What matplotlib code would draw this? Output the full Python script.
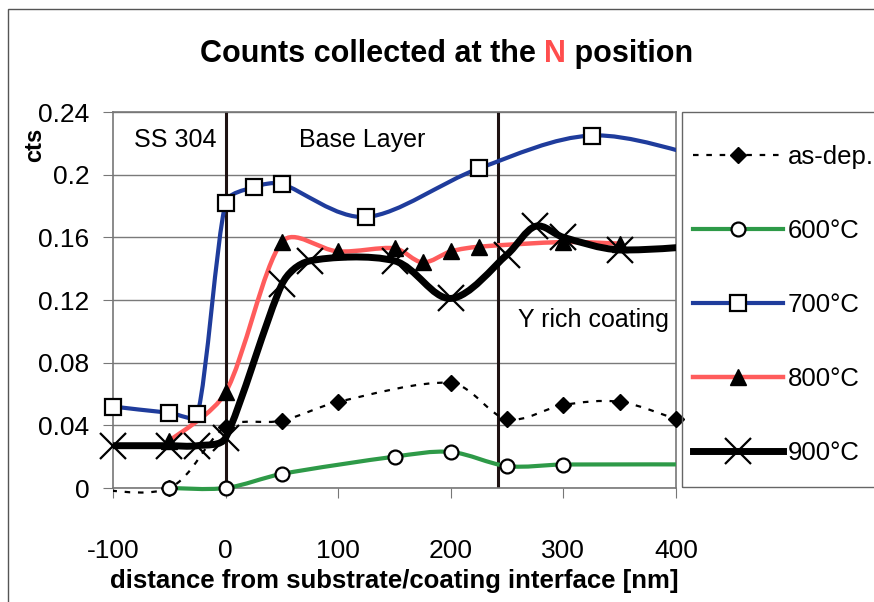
import numpy as np
import matplotlib
matplotlib.use("Agg")
import matplotlib.pyplot as plt
from matplotlib.path import Path
from matplotlib.patches import PathPatch, Rectangle
from matplotlib.lines import Line2D

plt.rcParams['axes.unicode_minus'] = False
FONT = ['Liberation Sans', 'DejaVu Sans']

# series (x in nm, y in cts)
asdep_x = [-125, -50, 0, 50, 100, 200, 250, 300, 350, 400]
asdep_y = [0.0, 0.0, 0.039, 0.043, 0.055, 0.067, 0.044, 0.053, 0.055, 0.044]

c600_x = [-50, 0, 50, 150, 200, 250, 300, 450]
c600_y = [0.0, 0.0, 0.009, 0.020, 0.023, 0.014, 0.015, 0.015]

c700_x = [-100, -50, -25, 0, 25, 50, 125, 225, 325, 425]
c700_y = [0.052, 0.048, 0.047, 0.182, 0.192, 0.194, 0.173, 0.204, 0.225, 0.211]

c800_x = [-50, 0, 50, 100, 150, 175, 200, 225, 300, 350]
c800_y = [0.030, 0.061, 0.157, 0.151, 0.153, 0.144, 0.151, 0.154, 0.157, 0.156]

c900_x = [-100, -50, -25, 0, 50, 75, 150, 200, 250, 275, 300, 350, 450]
c900_y = [0.027, 0.027, 0.027, 0.032, 0.130, 0.145, 0.145, 0.121, 0.149, 0.167, 0.160, 0.152, 0.156]

labels = ['as-dep.', '600°C', '700°C', '800°C', '900°C']
layer_bounds = [0, 242]
xticks = [-100, 0, 100, 200, 300, 400]
yticks = [0, 0.04, 0.08, 0.12, 0.16, 0.2, 0.24]
ytick_labels = ['0', '0.04', '0.08', '0.12', '0.16', '0.2', '0.24']

fig = plt.figure(figsize=(8.74, 6.02), dpi=100)
W, H = 874, 602
ax = fig.add_axes([113 / W, 1 - 488 / H, (676 - 113) / W, (488 - 112) / H])
ax.set_xlim(-100, 400)
ax.set_ylim(0, 0.24)


def smooth_path(x, y):
    # Excel-like smoothed line: Catmull-Rom bezier, worked out in pixel space,
    # with the handles capped so short steps do not overshoot
    to_px = ax.transData
    pts = to_px.transform(np.column_stack([x, y]).astype(float))
    verts = [pts[0]]
    codes = [Path.MOVETO]
    n = len(pts)
    for i in range(n - 1):
        p0 = pts[i - 1] if i > 0 else pts[i]
        p1, p2 = pts[i], pts[i + 1]
        p3 = pts[i + 2] if i + 2 < n else pts[i + 1]
        seg = np.hypot(*(p2 - p1))
        d1 = (p2 - p0) / 6
        d2 = (p3 - p1) / 6
        cap = seg / 3
        for d in (d1, d2):
            L = np.hypot(*d)
            if L > cap and L > 0:
                d *= cap / L
        verts += [p1 + d1, p2 - d2, p2]
        codes += [Path.CURVE4] * 3
    verts = to_px.inverted().transform(np.array(verts))
    return Path(verts, codes)


# outer chart border
fig.patches.append(Rectangle((8 / W, -0.1), 1.2, 1.1 - 9 / H, transform=fig.transFigure,
                             fill=False, edgecolor='#555555', lw=1.0))
# legend box
fig.patches.append(Rectangle((682 / W, 1 - 487 / H), 0.3, (487 - 112) / H,
                             transform=fig.transFigure, fill=False,
                             edgecolor='#666666', lw=1.0))

ax.set_xticks(xticks)
ax.set_yticks(yticks)
ax.set_yticklabels(ytick_labels)
ax.grid(axis='y', color='#7a7a7a', lw=1.0)
ax.set_axisbelow(True)
for s in ax.spines.values():
    s.set_color('#777777')
    s.set_linewidth(1.2)
ax.tick_params(axis='x', length=7, color='#777777', pad=30, labelsize=19)
ax.tick_params(axis='y', length=7, color='#777777', pad=10, labelsize=19)
for t in ax.get_xticklabels() + ax.get_yticklabels():
    t.set_family(FONT)

for xb in layer_bounds:
    ax.axvline(xb, color='#1e1212', lw=2.2, zorder=1.5)

clip = Rectangle((0, -0.04), 1, 1.08, transform=ax.transAxes)

series = [
    (asdep_x, asdep_y, dict(color='black', lw=1.6, ls=(0, (2.5, 3.5))),
     dict(marker='D', ms=8, mfc='black', mec='black')),
    (c600_x, c600_y, dict(color='#2e9a48', lw=3.0, ls='-'),
     dict(marker='o', ms=10, mfc='white', mec='black', mew=1.6)),
    (c700_x, c700_y, dict(color='#1f3c9c', lw=3.0, ls='-'),
     dict(marker='s', ms=11, mfc='white', mec='black', mew=1.6)),
    (c800_x, c800_y, dict(color='#ff5c5c', lw=3.2, ls='-'),
     dict(marker='^', ms=11, mfc='black', mec='black')),
    (c900_x, c900_y, dict(color='black', lw=5.0, ls='-'),
     dict(marker='x', ms=19, mfc='black', mec='black', mew=1.6)),
]

handles = []
for (x, y, lst, mst), lab in zip(series, labels):
    patch = PathPatch(smooth_path(x, y), fill=False, edgecolor=lst['color'], lw=lst['lw'],
                      linestyle=lst['ls'], capstyle='butt', joinstyle='round', zorder=3)
    ax.add_patch(patch)
    patch.set_clip_path(clip)
    xa, ya = np.array(x), np.array(y)
    m = (xa >= -100) & (xa <= 400)
    ax.plot(xa[m], ya[m], ls='none', clip_on=False, zorder=4, **mst)
    handles.append(Line2D([], [], color=lst['color'], lw=lst['lw'], ls=lst['ls'], **mst))

ax.text(-45, 0.222, 'SS 304', ha='center', va='center', fontsize=18, family=FONT)
ax.text(121, 0.222, 'Base Layer', ha='center', va='center', fontsize=18, family=FONT)
ax.text(327, 0.107, 'Y rich coating', ha='center', va='center', fontsize=18, family=FONT)

ax.set_xlabel('distance from substrate/coating interface [nm]', fontsize=18.5,
              fontweight='bold', family=FONT, labelpad=4)
fig.text(35 / W, 1 - 145 / H, 'cts', rotation=90, ha='center', va='center',
         fontsize=17, fontweight='bold', family=FONT)

# title with the red N
ty = 1 - 62 / H
t1 = fig.text(200 / W, ty, 'Counts collected at the ', fontsize=22,
              fontweight='bold', family=FONT, ha='left', va='baseline')
fig.canvas.draw()
bb = t1.get_window_extent()
t2 = fig.text(bb.x1 / W, ty, 'N', fontsize=22, fontweight='bold', family=FONT,
              color='#ff4d4d', ha='left', va='baseline')
fig.canvas.draw()
bb2 = t2.get_window_extent()
fig.text(bb2.x1 / W, ty, ' position', fontsize=22, fontweight='bold', family=FONT,
         ha='left', va='baseline')

leg = fig.legend(handles, labels, loc='upper left', bbox_to_anchor=(693 / W, 1 - 145 / H),
                 frameon=False, handlelength=3.5, handletextpad=0.2,
                 labelspacing=1.95, borderpad=0, borderaxespad=0,
                 prop={'family': FONT, 'size': 18.5})

fig.savefig('out.png', dpi=100)
